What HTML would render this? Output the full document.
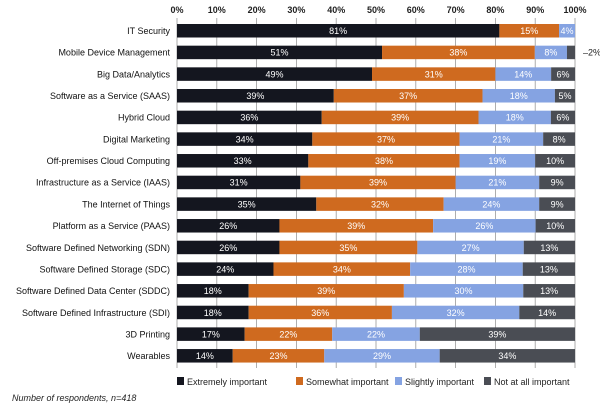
<!DOCTYPE html>
<html><head><meta charset="utf-8"><style>
body{margin:0;background:#fff;width:600px;height:408px;overflow:hidden;font-family:"Liberation Sans",sans-serif}
svg text{font-family:"Liberation Sans",sans-serif}
</style></head><body>
<svg id="chart" width="600" height="408"></svg>
<script>
const categories=["IT Security","Mobile Device Management","Big Data/Analytics","Software as a Service (SAAS)","Hybrid Cloud","Digital Marketing","Off-premises Cloud Computing","Infrastructure as a Service (IAAS)","The Internet of Things","Platform as a Service (PAAS)","Software Defined Networking (SDN)","Software Defined Storage (SDC)","Software Defined Data Center (SDDC)","Software Defined Infrastructure (SDI)","3D Printing","Wearables"];
const extremely=[81,51,49,39,36,34,33,31,35,26,26,24,18,18,17,14];
const somewhat=[15,38,31,37,39,37,38,39,32,39,35,34,39,36,22,23];
const slightly=[4,8,14,18,18,21,19,21,24,26,27,28,30,32,22,29];
const notatall=[0,2,6,5,6,8,10,9,9,10,13,13,13,14,39,34];
const seriesNames=["Extremely important","Somewhat important","Slightly important","Not at all important"];
const tickLabels=["0%","10%","20%","30%","40%","50%","60%","70%","80%","90%","100%"];
const series=[extremely,somewhat,slightly,notatall];
const colors=["#14161f","#cf6a1f","#85a3e2","#4a4d54"];
const svg=document.getElementById('chart');
const NS="http://www.w3.org/2000/svg";
const X0=177,X1=575,Y0=24,STEP=21.67,BH=13.5;
const xs=v=>X0+(X1-X0)*v/100;
const ys=i=>Y0+i*STEP;
function mk(t,a,p){const e=document.createElementNS(NS,t);for(const k in a)e.setAttribute(k,a[k]);(p||svg).appendChild(e);return e;}
tickLabels.forEach((t,i)=>{const v=i*10;
 const g=mk('line',{x1:xs(v),x2:xs(v),y1:18,y2:368,stroke:'#9a9a9a','stroke-width':0.8});
 
 
 const tx=mk('text',{x:xs(v),y:13,'text-anchor':'middle','font-size':9,'font-weight':'bold',fill:'#222'});tx.textContent=t;
 
 
});
categories.forEach((c,i)=>{
 const y=ys(i);
 const lb=mk('text',{x:170,y:y+BH/2+3.3,'text-anchor':'end','font-size':9,fill:'#111'});lb.textContent=c;
 
 
 let tot=0;series.forEach(s=>tot+=s[i]);
 let acc=0;
 series.forEach((s,k)=>{
  const v=s[i];if(v<=0)return;
  const a=xs(acc/tot*100),b=xs((acc+v)/tot*100);acc+=v;
  const r=mk('rect',{x:a,y:y,width:b-a,height:BH,fill:colors[k]});
  
  
  if(v>=3){const t=mk('text',{x:(a+b)/2,y:y+BH/2+3.3,'text-anchor':'middle','font-size':9,fill:'#fff'});t.textContent=v+'%';
   
   }
  else{const t=mk('text',{x:X1+8,y:y+BH/2+3.3,'font-size':9,fill:'#222'});t.textContent='\u2013'+v+'%';
   
   }
 });
});
const lx=[177,296,395,484];
seriesNames.forEach((n,k)=>{
 const g=mk('g',{});
 
 
 mk('rect',{x:lx[k],y:377,width:7,height:8,fill:colors[k]},g);
 const t=mk('text',{x:lx[k]+10,y:385,'font-size':9,fill:'#222'},g);t.textContent=n;
});
const fn=mk('text',{x:12,y:401,'font-size':9,'font-style':'italic',fill:'#222'});fn.textContent='Number of respondents, n=418';


</script>
</body></html>
